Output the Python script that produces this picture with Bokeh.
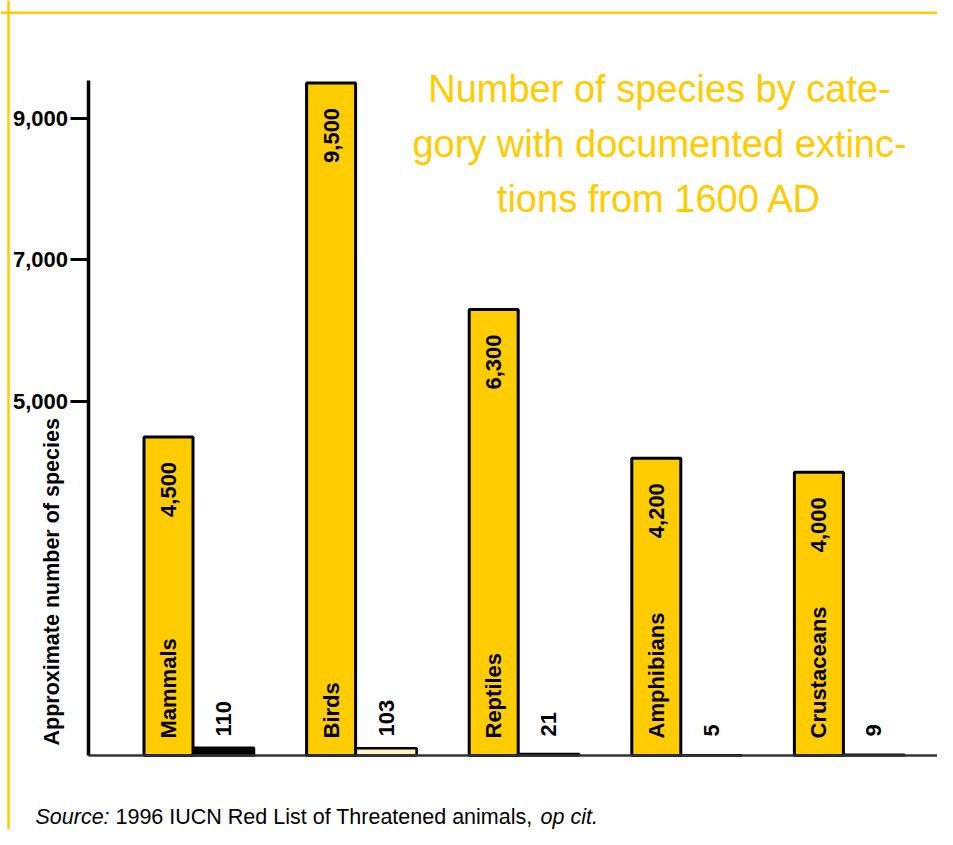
import math
from bokeh.plotting import figure
from bokeh.models import (Range1d, LinearAxis, FixedTicker, NumeralTickFormatter,
                          Label, Span, ColumnDataSource)
from bokeh.transform import dodge
from bokeh.core.properties import value
from bokeh.embed import file_html
from bokeh.resources import INLINE

# ---------------- data ----------------
categories = ["Mammals", "Birds", "Reptiles", "Amphibians", "Crustaceans"]
species_total = [4500, 9500, 6300, 4200, 4000]
species_extinct = [110, 103, 21, 5, 9]
total_labels = ["4,500", "9,500", "6,300", "4,200", "4,000"]
extinct_labels = ["110", "103", "21", "5", "9"]
y_ticks = [5000, 7000, 9000]
title_lines = ["Number of species by cate-",
               "gory with documented extinc-",
               "tions from 1600 AD"]
y_label = "Approximate number of species"
source_parts = ["Source:", "1996 IUCN Red List of Threatened animals,", "op cit."]

# ---------------- style / layout ----------------
FONT = "Liberation Sans"
YELLOW = "#FFCC00"
extinct_fill = ["black", "#FFF4C8", "black", "black", "black"]
LBL = "22px"

W, H = 937, 829
K = 0.0708                 # px per unit on y
BASE = 755.0               # picture y of the baseline
PITCH = 162.6              # px between category groups
GC0 = 198.5                # picture x of first group centre


def dx(px):
    return (px - GC0) / PITCH


def dy(py):
    return (BASE - py) / K


BIG_OFF, BIG_W = -30.5 / PITCH, 49 / PITCH
SMALL_OFF, SMALL_W = 24.5 / PITCH, 61 / PITCH

p = figure(width=W, height=H,
           x_range=Range1d(dx(0), dx(W)),
           y_range=Range1d(dy(H), dy(0)),
           x_axis_location=None, y_axis_location=None,
           toolbar_location=None, output_backend="svg",
           min_border_left=0, min_border_right=0,
           min_border_top=0, min_border_bottom=0)
p.outline_line_color = None
p.background_fill_color = "white"
p.border_fill_color = "white"
p.grid.grid_line_color = None

src = ColumnDataSource(dict(x=list(range(len(categories))), cat=categories,
                            total=species_total, extinct=species_extinct,
                            tl=total_labels, el=extinct_labels,
                            ecol=extinct_fill))

# yellow frame lines
p.add_layout(Span(location=dy(12.2), dimension="width",
                  line_color=YELLOW, line_width=2.5))
p.add_layout(Span(location=dx(8), dimension="height",
                  line_color=YELLOW, line_width=2.5))

# bars
p.vbar(x=dodge("x", SMALL_OFF), top="extinct", bottom=0, width=SMALL_W,
       fill_color="ecol", line_color="black", line_width=2.5, source=src)
p.vbar(x=dodge("x", BIG_OFF), top="total", bottom=0, width=BIG_W,
       fill_color=YELLOW, line_color="black", line_width=3, source=src)

txt = dict(text_font=value(FONT), text_font_style="bold",
           text_font_size=LBL, text_color="black",
           angle=math.pi / 2, text_baseline="middle", source=src)
p.text(x=dodge("x", BIG_OFF), y="total", text="tl", text_align="right",
       y_offset=25, **txt)
p.text(x=dodge("x", BIG_OFF), y=0, text="cat", text_align="left",
       y_offset=-17, **txt)
p.text(x=dodge("x", SMALL_OFF), y=0, text="el", text_align="left",
       y_offset=-19, **txt)

# axes
yaxis = LinearAxis(fixed_location=dx(87.5), ticker=FixedTicker(ticks=y_ticks),
                   formatter=NumeralTickFormatter(format="0,0"),
                   bounds=(0, max(species_total) + 2 / K))
yaxis.axis_line_width = 3.5
yaxis.axis_line_color = "black"
yaxis.major_tick_out = 18
yaxis.major_tick_in = 0
yaxis.major_tick_line_width = 3
yaxis.minor_tick_out = 0
yaxis.minor_tick_in = 0
yaxis.major_label_standoff = 2
yaxis.major_label_text_font = FONT
yaxis.major_label_text_font_style = "bold"
yaxis.major_label_text_font_size = LBL
yaxis.major_label_text_color = "black"
p.add_layout(yaxis, "left")

xaxis = LinearAxis(fixed_location=0, ticker=FixedTicker(ticks=[]),
                   bounds=(dx(87.5), dx(W)))
xaxis.axis_line_width = 2.5
xaxis.axis_line_color = "#333333"
xaxis.major_tick_out = 0
xaxis.major_tick_in = 0
xaxis.minor_tick_out = 0
xaxis.minor_tick_in = 0
xaxis.major_label_text_font_size = "0px"
p.add_layout(xaxis, "below")

# title (anchored at the middle of each line)
for line, mid in zip(title_lines, [88.5, 143.5, 198.0]):
    p.add_layout(Label(x=dx(659), y=dy(mid), text=line, text_align="center",
                       text_baseline="middle", text_font=FONT,
                       text_font_size="38px", text_color=YELLOW))

# y axis label
p.add_layout(Label(x=dx(51), y=dy(745), text=y_label, angle=math.pi / 2,
                   text_align="left", text_baseline="middle", text_font=FONT,
                   text_font_style="bold", text_font_size="21.5px",
                   text_color="black"))

# source line
for part, xpos, style in zip(source_parts, [35, 115, 540],
                             ["italic", "normal", "italic"]):
    p.add_layout(Label(x=dx(xpos), y=dy(816.5), text=part, text_align="left",
                       text_baseline="middle", text_font=FONT,
                       text_font_style=style, text_font_size="21.5px",
                       text_color="black"))

open("out.html", "w").write(file_html(p, INLINE))
